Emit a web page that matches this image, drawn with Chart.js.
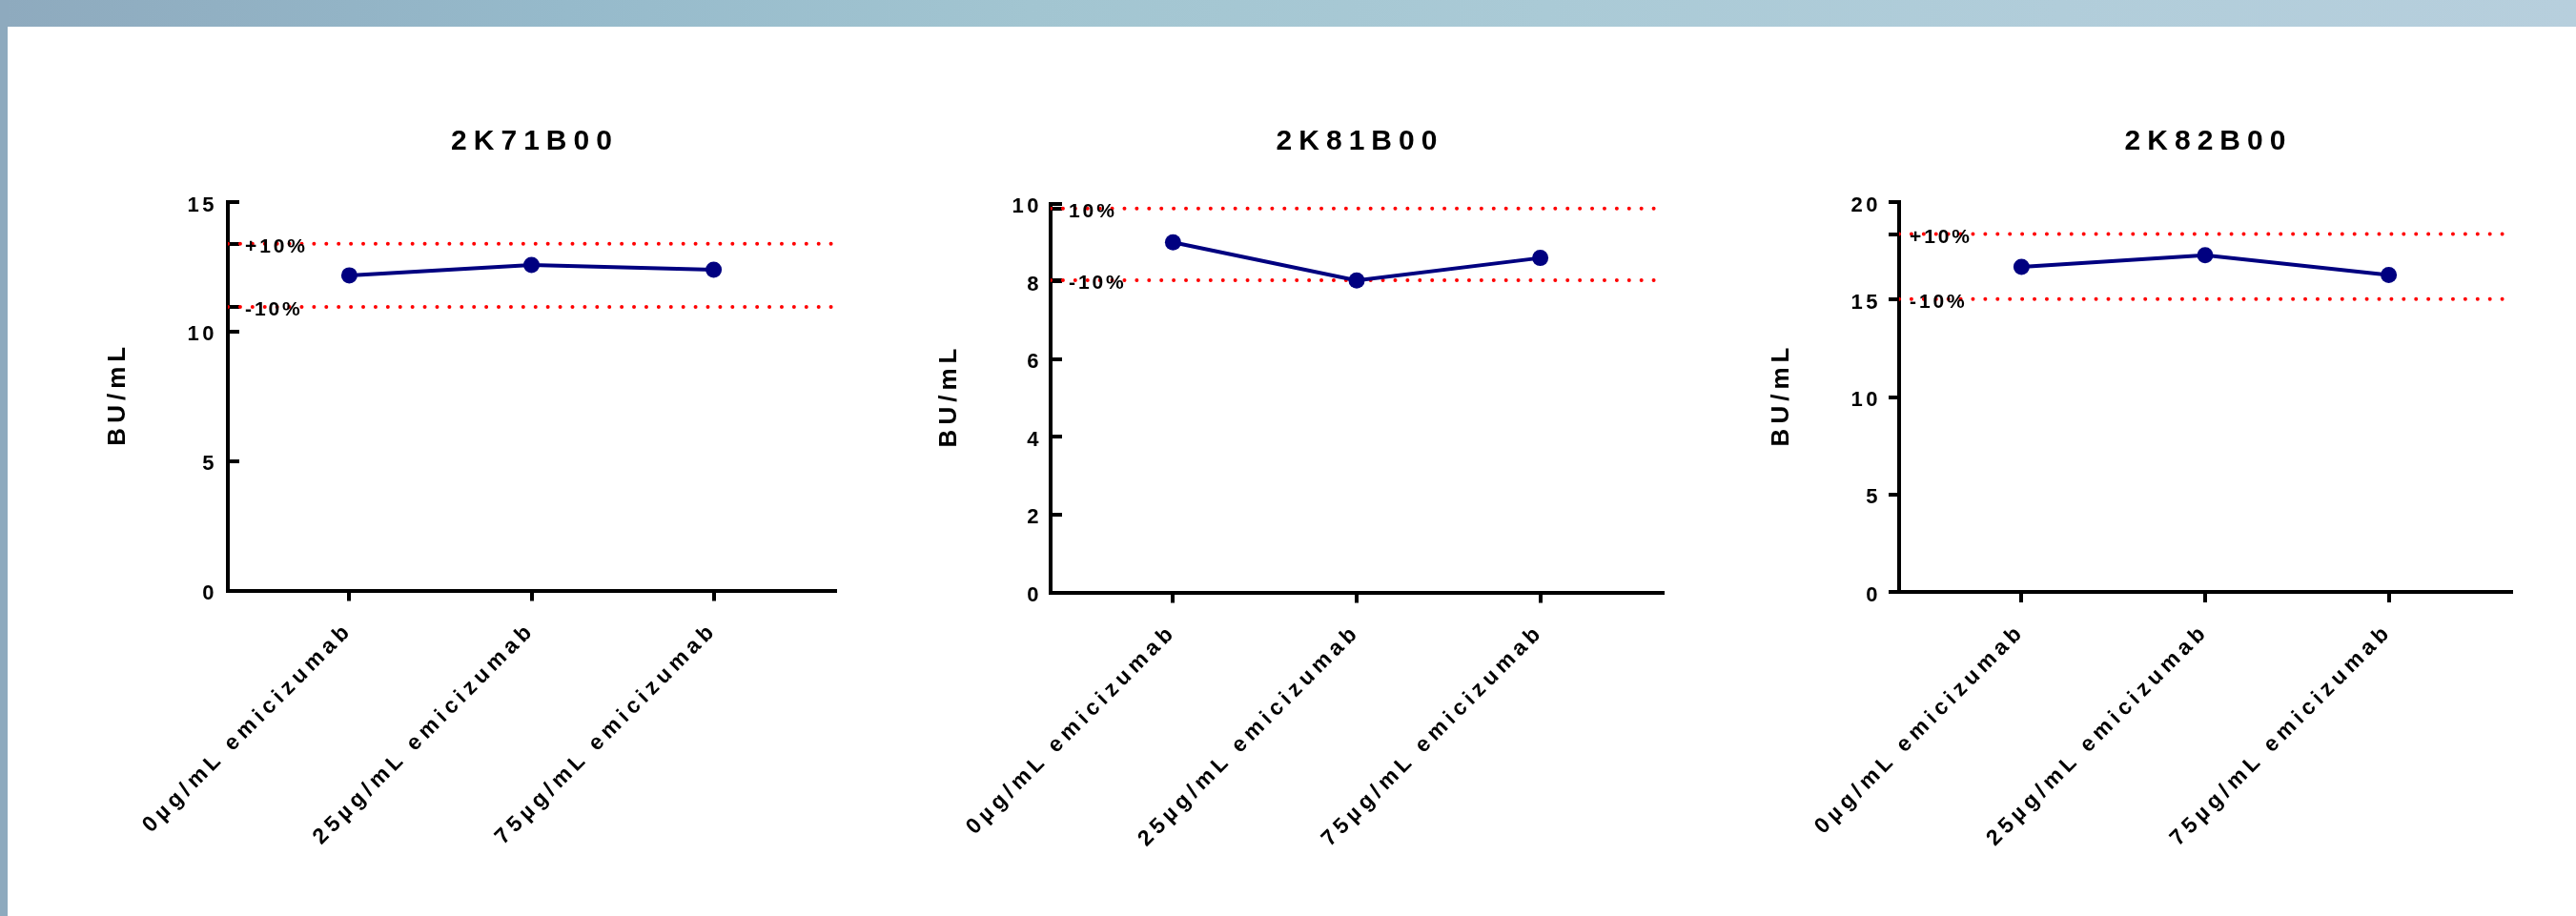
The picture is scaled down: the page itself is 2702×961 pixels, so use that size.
<!DOCTYPE html>
<html>
<head>
<meta charset="utf-8">
<title>BU/mL by emicizumab concentration</title>
<script src="https://cdn.jsdelivr.net/npm/chart.js@4.4.1/dist/chart.umd.min.js"></script>
<style>
  html, body { margin: 0; padding: 0; background: #fff; }
  body { width: 2702px; height: 961px; position: relative; overflow: hidden; }
  .frame-top {
    position: absolute; left: 0; top: 0; width: 2702px; height: 28px;
    background: linear-gradient(90deg, #8eaabe 0%, #96bacb 22%, #a2c5d1 40%, #aacad6 60%, #b1cdda 80%, #b7cfdd 100%);
  }
  .frame-left { position: absolute; left: 0; top: 0; width: 8px; height: 961px; background: #8eaabe; }
  canvas { position: absolute; top: 0; }
</style>
</head>
<body>
<div class="frame-top"></div>
<div class="frame-left"></div>
<canvas id="lot0"></canvas>
<canvas id="lot1"></canvas>
<canvas id="lot2"></canvas>
<script>
// ---- Data ----
const categories = ['0µg/mL emicizumab', '25µg/mL emicizumab', '75µg/mL emicizumab'];
const lotNames = ['2K71B00', '2K81B00', '2K82B00'];
const bu2K71 = [12.17, 12.57, 12.39];
const bu2K81 = [9.0, 8.02, 8.6];
const bu2K82 = [16.67, 17.27, 16.26];
const limits2K71 = [13.39, 10.95];
const limits2K81 = [9.87, 8.03];
const limits2K82 = [18.36, 15.03];
const limitLabels2K71 = ['+10%', '-10%'];
const limitLabels2K81 = ['10%', '-10%'];
const limitLabels2K82 = ['+10%', '-10%'];
const yMaxima = [15, 10, 20];
const ySteps = [5, 2, 5];

// ---- Layout (page pixels) ----
const panels = [
  { x0: 239,  x1: 876,  y0: 212,   y1: 619.5, inward: true,  tickPad: 23, labelX: 18, yTitleX: 124 },
  { x0: 1102, x1: 1744, y0: 213.5, y1: 621.5, inward: true,  tickPad: 21, labelX: 19, yTitleX: 996 },
  { x0: 1992, x1: 2634, y0: 212,   y1: 621,   inward: false, tickPad: 8,  labelX: 11, yTitleX: 1869 }
];
const LEFT_ROOM = 190;
const RIGHT_ROOM = 50;
const PAGE_H = 961;
const X_MIN = -2 / 3;
const X_MAX = 8 / 3;
const FAMILY = '"Liberation Sans", Arial, sans-serif';
const NAVY = '#000080';
const RED = '#ff0000';

function drawPanel(canvasId, p, title, values, limits, limitLabels, yMax, yStep) {
  const canvas = document.getElementById(canvasId);
  const left = p.x0 - LEFT_ROOM;
  canvas.width = LEFT_ROOM + (p.x1 - p.x0) + RIGHT_ROOM;
  canvas.height = PAGE_H;
  canvas.style.left = left + 'px';

  // Text extras: letter spacing per layer, title, y title, limit labels
  const annotate = {
    id: 'annotate',
    beforeDraw(chart) { chart.ctx.letterSpacing = '3.5px'; },
    afterDatasetsDraw(chart) { chart.ctx.letterSpacing = '4.8px'; },
    afterDraw(chart) {
      const { ctx, chartArea, scales } = chart;
      ctx.save();
      ctx.fillStyle = '#000';
      ctx.textBaseline = 'middle';

      ctx.font = 'bold 30px ' + FAMILY;
      ctx.letterSpacing = '7px';
      ctx.textAlign = 'center';
      ctx.fillText(title, (chartArea.left + chartArea.right) / 2 + 3.5, 148.5);

      ctx.save();
      ctx.translate(p.yTitleX - left, (chartArea.top + chartArea.bottom) / 2);
      ctx.rotate(-Math.PI / 2);
      ctx.font = 'bold 26px ' + FAMILY;
      ctx.letterSpacing = '5px';
      ctx.fillText('BU/mL', 2.5, 0);
      ctx.restore();

      ctx.font = 'bold 21px ' + FAMILY;
      ctx.letterSpacing = '2.9px';
      ctx.textAlign = 'left';
      limits.forEach((v, i) => {
        ctx.fillText(limitLabels[i], chartArea.left + p.labelX, scales.y.getPixelForValue(v) + 3.5);
      });
      ctx.restore();
      ctx.letterSpacing = '0px';
    }
  };

  new Chart(canvas, {
    type: 'line',
    data: {
      datasets: [
        {
          data: values.map((v, i) => ({ x: i, y: v })),
          borderColor: NAVY,
          backgroundColor: NAVY,
          borderWidth: 4,
          pointRadius: 8.5,
          pointHoverRadius: 8.5,
          pointBorderWidth: 0,
          order: 0
        },
        ...limits.map(v => ({
          data: [{ x: X_MIN, y: v }, { x: X_MAX, y: v }],
          borderColor: RED,
          borderWidth: 4,
          borderDash: [0.01, 12.9],
          borderCapStyle: 'round',
          pointRadius: 0,
          order: 1
        }))
      ]
    },
    options: {
      responsive: false,
      animation: false,
      events: [],
      layout: { padding: { left: 0, right: RIGHT_ROOM, top: p.y0, bottom: 0 } },
      plugins: {
        legend: { display: false },
        tooltip: { enabled: false },
        title: { display: false }
      },
      scales: {
        x: {
          type: 'linear',
          min: X_MIN,
          max: X_MAX,
          afterBuildTicks: s => { s.ticks = categories.map((c, i) => ({ value: i })); },
          afterFit: s => { s.height = PAGE_H - p.y1; },
          grid: { drawOnChartArea: false, drawTicks: true, tickLength: 11, lineWidth: 4, color: '#000' },
          border: { display: true, width: 4, color: '#000' },
          ticks: {
            z: 1,
            autoSkip: false,
            minRotation: 45,
            maxRotation: 45,
            padding: 17,
            color: '#000',
            font: { family: FAMILY, size: 23, weight: 'bold' },
            callback: v => categories[v]
          }
        },
        y: {
          min: 0,
          max: yMax,
          afterBuildTicks: s => { s.ticks = s.ticks.concat(limits.map(v => ({ value: v }))); },
          afterFit: s => { s.width = LEFT_ROOM; },
          grid: { drawOnChartArea: false, drawTicks: true, tickLength: p.inward ? -12 : 11, lineWidth: 4, color: '#000' },
          border: { display: true, width: 4, color: '#000' },
          ticks: {
            stepSize: yStep,
            autoSkip: false,
            padding: p.tickPad,
            labelOffset: 3.5,
            color: '#000',
            font: { family: FAMILY, size: 22, weight: 'bold' },
            callback: v => (limits.includes(v) ? '' : v)
          }
        }
      }
    },
    plugins: [annotate]
  });
}

drawPanel('lot0', panels[0], lotNames[0], bu2K71, limits2K71, limitLabels2K71, yMaxima[0], ySteps[0]);
drawPanel('lot1', panels[1], lotNames[1], bu2K81, limits2K81, limitLabels2K81, yMaxima[1], ySteps[1]);
drawPanel('lot2', panels[2], lotNames[2], bu2K82, limits2K82, limitLabels2K82, yMaxima[2], ySteps[2]);
</script>
</body>
</html>
